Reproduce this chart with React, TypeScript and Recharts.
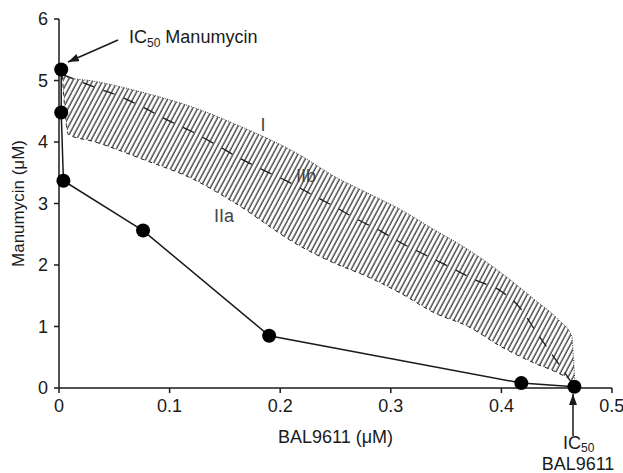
import React from 'react';
import { ComposedChart, Area, Line, XAxis, YAxis } from 'recharts';

// measured combination points (BAL9611 µM, Manumycin µM)
const balDose = [0.002, 0.002, 0.004, 0.076, 0.19, 0.418, 0.466];
const manuDose = [5.18, 4.48, 3.37, 2.56, 0.85, 0.08, 0.02];

// shaded additivity band: shared x, lower (IIa) and upper (I) edges
const bandX = [0.003, 0.0085, 0.031, 0.077, 0.122, 0.158, 0.2187, 0.249, 0.279, 0.309, 0.3397, 0.37, 0.4, 0.4304, 0.4516, 0.4637, 0.465, 0.4667];
const bandLow = [5.08, 4.12, 4.01, 3.71, 3.39, 3.02, 2.3, 2.03, 1.81, 1.54, 1.22, 1.0, 0.67, 0.4, 0.24, 0.1, 0.06, 0.02];
const bandHigh = [5.08, 5.05, 4.99, 4.8, 4.56, 4.3, 3.78, 3.44, 3.17, 2.9, 2.57, 2.25, 1.87, 1.43, 1.11, 0.84, 0.51, 0.02];

// dashed line IIb
const midX = [0.003, 0.034, 0.0554, 0.0765, 0.0977, 0.12, 0.1416, 0.163, 0.184, 0.2066, 0.226, 0.249, 0.27, 0.291, 0.3124, 0.334, 0.355, 0.376, 0.4, 0.417, 0.4304, 0.444, 0.4576, 0.466];
const midY = [5.1, 4.88, 4.74, 4.56, 4.36, 4.17, 3.96, 3.74, 3.55, 3.36, 3.17, 2.95, 2.74, 2.55, 2.33, 2.14, 1.95, 1.76, 1.57, 1.3, 0.94, 0.59, 0.24, 0.02];

const xTicks = [0, 0.1, 0.2, 0.3, 0.4, 0.5];
const yTicks = [0, 1, 2, 3, 4, 5, 6];

const FONT = '"Liberation Sans", Arial, Helvetica, sans-serif';
const INK = '#1a1a1a';

const points = balDose.map((x, i) => ({ x, y: manuDose[i] }));
const band = bandX.map((x, i) => ({ x, lo: bandLow[i], hi: bandHigh[i], range: [bandLow[i], bandHigh[i]] }));
const mid = midX.map((x, i) => ({ x, y: midY[i] }));

const tickStyle = { fontSize: 18, fill: INK, fontFamily: FONT };

export default function App() {
  return (
    <div style={{ position: 'absolute', left: 0, top: 0, width: 623, height: 473, background: '#fff' }}>
      <svg width={0} height={0} style={{ position: 'absolute' }}>
        <defs>
          <pattern id="hatch" patternUnits="userSpaceOnUse" width={4.4} height={6} patternTransform="rotate(28)">
            <line x1={1} y1={-1} x2={1} y2={7} stroke="#111" strokeWidth={1.1} />
          </pattern>
        </defs>
      </svg>
      <ComposedChart width={623} height={473} margin={{ top: 19, right: 11, bottom: 25, left: 0 }}>
        <XAxis
          type="number"
          dataKey="x"
          domain={[0, 0.5]}
          ticks={xTicks}
          tickFormatter={(v) => String(v)}
          height={60}
          tickSize={5}
          tickMargin={6}
          tick={tickStyle}
          axisLine={{ stroke: INK, strokeWidth: 1.5 }}
          tickLine={{ stroke: INK, strokeWidth: 1.5 }}
          label={{ value: 'BAL9611 (μM)', position: 'insideBottom', offset: 5, fontSize: 18, fill: INK, fontFamily: FONT }}
        />
        <YAxis
          type="number"
          domain={[0, 6]}
          ticks={yTicks}
          width={59}
          tickSize={5}
          tickMargin={6}
          tick={tickStyle}
          axisLine={{ stroke: INK, strokeWidth: 1.5 }}
          tickLine={{ stroke: INK, strokeWidth: 1.5 }}
          label={{
            value: 'Manumycin (μM)',
            angle: -90,
            position: 'insideLeft',
            offset: 18,
            fontSize: 17,
            fill: INK,
            fontFamily: FONT,
            style: { textAnchor: 'middle' },
          }}
        />
        <Area
          data={band}
          dataKey="range"
          type="monotone"
          fill="url(#hatch)"
          fillOpacity={1}
          stroke="none"
          isAnimationActive={false}
        />
        <Line data={band} dataKey="hi" type="monotone" stroke="#333" strokeWidth={1} strokeDasharray="1 1.5" dot={false} isAnimationActive={false} />
        <Line data={band} dataKey="lo" type="monotone" stroke="#222" strokeWidth={1} strokeDasharray="4 4" dot={false} isAnimationActive={false} />
        <Line data={mid} dataKey="y" type="monotone" stroke={INK} strokeWidth={1.3} strokeDasharray="12 10" dot={false} isAnimationActive={false} />
        <Line
          data={points}
          dataKey="y"
          type="linear"
          stroke={INK}
          strokeWidth={1.5}
          dot={{ r: 7, fill: '#000', stroke: 'none' }}
          isAnimationActive={false}
        />
      </ComposedChart>
      <svg
        width={623}
        height={473}
        style={{ position: 'absolute', left: 0, top: 0, pointerEvents: 'none', fontFamily: FONT }}
      >
        <defs>
          <marker id="head" markerUnits="userSpaceOnUse" markerWidth={12} markerHeight={10} refX={11} refY={4} orient="auto">
            <path d="M0,0 L11,4 L0,8 z" fill={INK} />
          </marker>
        </defs>
        <line x1={118} y1={40} x2={68} y2={62} stroke={INK} strokeWidth={1.5} markerEnd="url(#head)" />
        <text x={129} y={43} fontSize={18} fill={INK}>
          IC<tspan fontSize={12} dy={4}>50</tspan>
          <tspan dy={-4} dx={5}>Manumycin</tspan>
        </text>
        <line x1={573} y1={436} x2={573} y2={394} stroke={INK} strokeWidth={1.5} markerEnd="url(#head)" />
        <text x={563} y={449} fontSize={18} fill={INK}>
          IC<tspan fontSize={12} dy={3}>50</tspan>
        </text>
        <text x={578} y={470} fontSize={18} fill={INK} textAnchor="middle">BAL9611</text>
        <text x={263} y={131} fontSize={18} fill="#444" textAnchor="middle">I</text>
        <text x={306} y={182} fontSize={18} fill="#444" textAnchor="middle">IIb</text>
        <text x={224} y={222} fontSize={18} fill="#444" textAnchor="middle">IIa</text>
      </svg>
    </div>
  );
}
